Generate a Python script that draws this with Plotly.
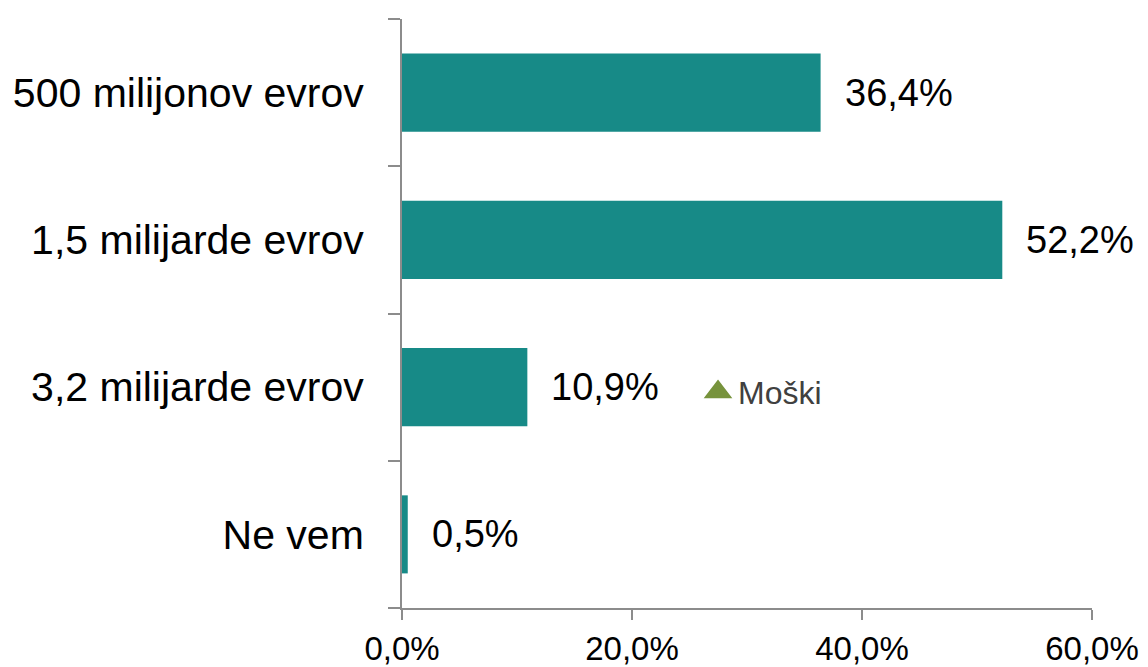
import plotly.graph_objects as go

categories = ["500 milijonov evrov", "1,5 milijarde evrov", "3,2 milijarde evrov", "Ne vem"]
values = [36.4, 52.2, 10.9, 0.5]
x_ticks = [0, 20, 40, 60]
x_tick_labels = ["0,0%", "20,0%", "40,0%", "60,0%"]
legend_name = "Moški"

pos = list(range(len(categories)))
FONT = "Liberation Sans, Arial, sans-serif"
AXIS = "#8C8C8C"

fig = go.Figure()
fig.add_trace(go.Bar(
    x=values, y=pos, orientation="h",
    marker=dict(color="#178A87", line=dict(width=0)),
    showlegend=False, hoverinfo="x+y",
))
fig.add_trace(go.Scatter(
    x=[None], y=[None], mode="markers", name=legend_name,
    marker=dict(symbol="triangle-up", color="#77933C", size=16,
                line=dict(color="#77933C", width=5)),
))

for v, p in zip(values, pos):
    fig.add_annotation(
        x=v, y=p, text=f"{v:.1f}%".replace(".", ","),
        xanchor="left", yanchor="middle", xshift=22, showarrow=False,
        font=dict(family=FONT, size=38, color="#000000"),
    )

fig.update_layout(
    width=1148, height=667,
    margin=dict(l=394, r=64, t=11, b=67),
    paper_bgcolor="white", plot_bgcolor="white",
    bargap=0.47,
    font=dict(family=FONT, color="#000000"),
    showlegend=True,
    legend=dict(x=0.429, y=0.367, xanchor="left", yanchor="middle",
                font=dict(family=FONT, size=32, color="#404040"),
                bgcolor="rgba(0,0,0,0)", itemwidth=30),
    xaxis=dict(
        range=[0, 60], tickvals=x_ticks, ticktext=x_tick_labels,
        showgrid=False, zeroline=False, showline=True, linecolor=AXIS, linewidth=2,
        ticks="outside", ticklen=10, tickwidth=2, tickcolor=AXIS,
        tickfont=dict(family=FONT, size=33, color="#000000"),
        ticklabelstandoff=0, automargin=False,
    ),
    yaxis=dict(
        range=[len(categories) - 0.5, -0.5], tickvals=pos, ticktext=categories,
        showgrid=False, zeroline=False, showline=True, linecolor=AXIS, linewidth=2,
        ticks="", ticklabelstandoff=28, automargin=False,
        tickfont=dict(family=FONT, size=41, color="#000000"),
        minor=dict(ticks="outside", tick0=0.5, dtick=1, ticklen=12,
                   tickwidth=2, tickcolor=AXIS, showgrid=False),
    ),
)

fig.write_html("out.html")
